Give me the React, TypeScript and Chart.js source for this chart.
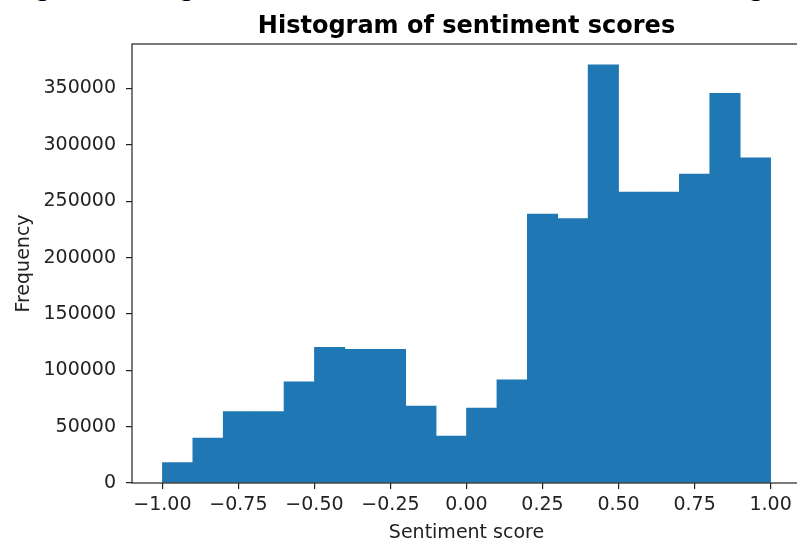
import React, { useEffect, useRef } from 'react';
import { Chart, registerables } from 'chart.js';

Chart.register(...registerables);

const binLefts = [-1.0, -0.9, -0.8, -0.7, -0.6, -0.5, -0.4, -0.3, -0.2, -0.1, 0.0, 0.1, 0.2, 0.3, 0.4, 0.5, 0.6, 0.7, 0.8, 0.9];
const frequencies = [18100, 39800, 63300, 63300, 89700, 120300, 118500, 118500, 68300, 41600, 66500, 91500, 238500, 234600, 371000, 258100, 258100, 274100, 345700, 288400];
const binWidth = 0.1;
const xTicks = [-1.0, -0.75, -0.5, -0.25, 0.0, 0.25, 0.5, 0.75, 1.0];
const yTicks = [0, 50000, 100000, 150000, 200000, 250000, 300000, 350000];

const titleText = 'Histogram of sentiment scores';
const xLabel = 'Sentiment score';
const yLabel = 'Frequency';
const captionText = 'Figure 3: Histogram of sentiment scores across the dataset, showing a strong positive skew';

const CANVAS_W = 820;
const CANVAS_H = 543;

const framePlugin = {
  id: 'frame',
  afterDatasetsDraw(chart: any) {
    const { ctx, chartArea } = chart;
    ctx.save();
    ctx.strokeStyle = '#222';
    ctx.lineWidth = 1.2;
    ctx.strokeRect(chartArea.left, chartArea.top, chartArea.right - chartArea.left, chartArea.bottom - chartArea.top);
    ctx.restore();
  },
};

const axesTitlePlugin = {
  id: 'axesTitle',
  afterDraw(chart: any) {
    const { ctx, chartArea } = chart;
    ctx.save();
    ctx.fillStyle = '#000';
    ctx.font = 'bold 24px "DejaVu Sans"';
    ctx.textAlign = 'center';
    ctx.textBaseline = 'alphabetic';
    ctx.fillText(titleText, (chartArea.left + chartArea.right) / 2, 33);
    ctx.restore();
  },
};

export default function App() {
  const ref = useRef<HTMLCanvasElement | null>(null);

  useEffect(() => {
    if (!ref.current) return;
    const tickFont = { family: 'DejaVu Sans', size: 19 };
    const chart = new Chart(ref.current, {
      type: 'bar',
      data: {
        datasets: [
          {
            data: binLefts.map((l, i) => ({ x: l + binWidth / 2, y: frequencies[i] })),
            backgroundColor: '#1f77b4',
            borderWidth: 0,
            barPercentage: 1,
            categoryPercentage: 1,
          },
        ],
      },
      options: {
        animation: false,
        responsive: false,
        devicePixelRatio: 1,
        layout: { padding: { left: 0, right: CANVAS_W - 801, top: 44, bottom: 0 } },
        plugins: {
          legend: { display: false },
          tooltip: { enabled: false },
          title: { display: false },
        },
        scales: {
          x: {
            type: 'linear',
            min: -1.1,
            max: 1.1,
            offset: false,
            afterBuildTicks: (s: any) => {
              s.ticks = xTicks.map((v) => ({ value: v }));
            },
            afterFit: (s: any) => {
              s.height = 60;
            },
            ticks: {
              color: '#222',
              font: tickFont,
              padding: 5,
              maxRotation: 0,
              autoSkip: false,
              callback: (v: any) => (Number(v) < 0 ? '\u2212' : '') + Math.abs(Number(v)).toFixed(2),
            },
            grid: { drawOnChartArea: false, drawTicks: true, tickLength: 6, color: '#222', lineWidth: 1.2, offset: false },
            border: { display: false },
            title: { display: true, text: xLabel, color: '#222', font: tickFont, padding: { top: 0, bottom: -1 } },
          },
          y: {
            type: 'linear',
            min: 0,
            max: 389500,
            afterBuildTicks: (s: any) => {
              s.ticks = yTicks.map((v) => ({ value: v }));
            },
            afterFit: (s: any) => {
              s.width = 132;
            },
            ticks: {
              color: '#222',
              font: tickFont,
              padding: 10,
              autoSkip: false,
              callback: (v: any) => String(v),
            },
            grid: { drawOnChartArea: false, drawTicks: true, tickLength: 6, color: '#222', lineWidth: 1.2 },
            border: { display: false },
            title: { display: true, text: yLabel, color: '#222', font: tickFont, padding: { top: 12.5, bottom: 0 } },
          },
        },
      },
      plugins: [framePlugin, axesTitlePlugin],
    } as any);
    return () => chart.destroy();
  }, []);

  return (
    <div style={{ position: 'absolute', left: 0, top: 0, width: 797, height: 543, overflow: 'hidden', background: '#fff' }}>
      <div
        style={{
          position: 'absolute',
          left: 13,
          top: -25,
          fontFamily: '"Liberation Serif", serif',
          fontWeight: 'bold',
          fontSize: 26,
          lineHeight: 1,
          whiteSpace: 'nowrap',
          color: '#000',
        }}
      >
        {captionText}
      </div>
      <canvas ref={ref} width={CANVAS_W} height={CANVAS_H} style={{ position: 'absolute', left: 0, top: 0, width: CANVAS_W, height: CANVAS_H }} />
    </div>
  );
}
